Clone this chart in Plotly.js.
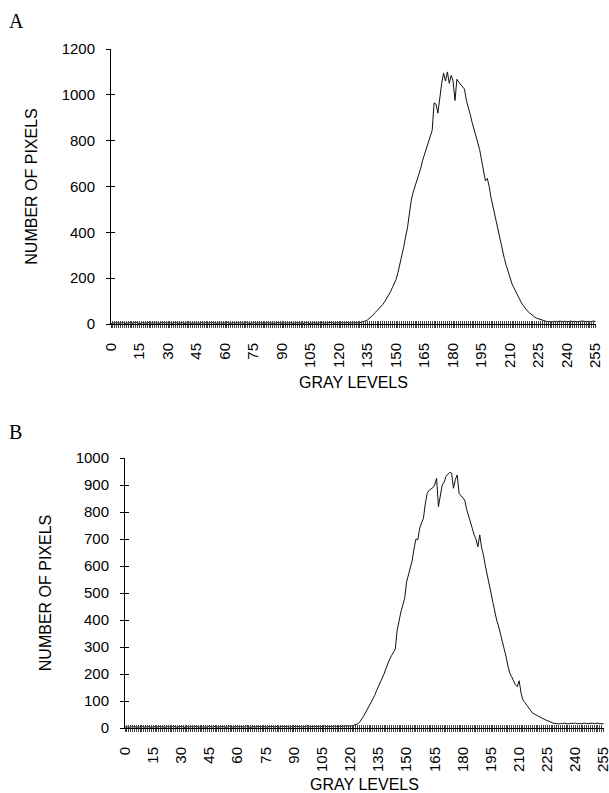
<!DOCTYPE html>
<html>
<head>
<meta charset="utf-8">
<script src="https://cdn.plot.ly/plotly-3.0.1.min.js"></script>
<style>html,body{margin:0;padding:0;background:#fff;}#chart{width:609px;height:793px;}</style>
</head>
<body>
<div id="chart"></div>
<script>
// Panel A: number of pixels per gray level (0..255)
const countsA = [
  2,4,3,6,5,3,7,4,2,5,
  6,3,4,8,5,2,4,6,3,5,
  7,4,3,5,6,2,4,7,5,3,
  4,6,2,5,8,4,3,6,5,2,
  5,7,3,4,6,5,2,4,7,3,
  6,4,5,3,7,2,5,6,4,3,
  5,8,4,2,6,5,3,7,4,5,
  3,6,4,5,2,7,5,3,6,4,
  5,3,7,4,6,2,5,4,8,3,
  4,6,5,3,7,4,2,6,5,4,
  6,3,5,7,4,2,5,6,3,4,
  5,7,3,4,6,5,8,4,3,6,
  4,5,6,3,7,5,4,6,5,7,
  5,6,8,10,14,18,24,32,40,50,
  58,66,75,85,97,110,122,140,158,178,
  195,225,260,295,335,380,420,480,540,575,
  600,620,650,680,715,740,765,790,815,845,
  965,960,920,990,1050,1095,1060,1100,1050,1085,
  1060,975,1068,1055,1045,1030,1025,975,950,915,
  880,850,820,790,760,715,670,625,635,600,
  550,510,470,430,395,355,320,285,255,225,
  195,175,158,140,122,108,92,80,68,58,
  50,42,36,30,25,22,20,16,12,10,
  9,11,8,12,10,9,13,11,10,12,
  9,11,13,10,12,9,11,10,13,12,
  10,12,9,11,13,10
];
// Panel B
const countsB = [
  3,5,2,4,6,3,5,2,4,7,
  4,3,6,5,2,4,5,3,6,4,
  5,2,4,6,3,5,7,4,3,5,
  6,4,2,5,3,6,4,5,7,3,
  4,6,5,2,4,7,3,5,6,4,
  3,5,6,4,2,5,7,4,3,6,
  5,4,6,3,5,8,4,2,6,5,
  3,7,4,5,6,3,5,4,7,5,
  4,6,3,5,7,4,6,5,3,6,
  5,7,4,6,5,3,6,8,5,4,
  6,5,7,4,6,5,8,6,4,7,
  5,6,8,5,7,6,5,8,7,6,
  7,8,10,12,15,22,30,42,55,68,
  80,92,104,120,138,153,168,185,200,220,
  240,255,268,280,292,362,400,430,455,480,
  540,570,590,620,665,700,697,740,760,777,
  830,869,880,885,890,900,925,820,870,900,
  910,931,940,947,944,888,920,937,869,860,
  850,844,810,789,760,740,715,700,671,715,
  668,640,600,570,530,500,465,430,400,378,
  350,326,295,265,230,203,190,175,160,153,
  175,130,104,95,85,72,62,56,52,48,
  44,40,36,33,30,28,24,20,18,17,
  16,15,17,16,18,16,15,17,16,17,
  18,16,17,15,17,18,16,17,16,18,
  16,17,18,16,17,16
];
const grayLevels = countsA.map((_, i) => i);
const xTickVals = [0,15,30,45,60,75,90,105,120,135,150,165,180,195,210,225,240,255];
const xTickText = ["0","15","30","45","60","75","90","105","120","135","150","165","180","195","210","225","240","255"];
const yTickValsA = [0,200,400,600,800,1000,1200];
const yTickValsB = [0,100,200,300,400,500,600,700,800,900,1000];
const panelLabels = ["A","B"];
const xTitle = "GRAY LEVELS";
const yTitle = "NUMBER OF PIXELS";

const W = 609, H = 793;
const FONT = "Liberation Sans, Arial, sans-serif";
const lineStyle = {color:"#111", width:1};

const traces = [
  {x: grayLevels, y: countsA, xaxis:"x", yaxis:"y", mode:"lines", line: lineStyle, showlegend:false, hoverinfo:"skip"},
  {x: grayLevels, y: countsB, xaxis:"x2", yaxis:"y2", mode:"lines", line: lineStyle, showlegend:false, hoverinfo:"skip"},
  {x: [], y: [], xaxis:"x3", yaxis:"y3", showlegend:false},
  {x: [], y: [], xaxis:"x4", yaxis:"y4", showlegend:false}
];

function mainX(domain, anchor) {
  return {
    domain: domain, anchor: anchor, range: [0, 255.2],
    showline: true, linecolor: "#000", linewidth: 1,
    showgrid: false, zeroline: false,
    tickmode: "array", tickvals: xTickVals, ticktext: xTickText,
    ticks: "outside", ticklen: 3, tickcolor: "#333", tickwidth: 1,
    minor: {tickmode: "linear", tick0: 0, dtick: 1, ticks: "outside", ticklen: 3, tickcolor: "#444", tickwidth: 1},
    tickangle: -90, ticklabelstandoff: 9, ticklabeloverflow: "allow",
    tickfont: {family: FONT, size: 15, color: "#000"},
    title: {text: xTitle, font: {family: FONT, size: 16, color: "#000"}, standoff: 9}
  };
}
function overX(over, anchor) {
  return {
    overlaying: over, anchor: anchor, range: [0, 255.2],
    showline: false, showgrid: false, zeroline: false, showticklabels: false,
    tickmode: "linear", tick0: 0, dtick: 1,
    ticks: "inside", ticklen: 3, tickcolor: "#444", tickwidth: 1
  };
}
function mainY(domain, anchor, range, vals) {
  return {
    domain: domain, anchor: anchor, range: range,
    showline: true, linecolor: "#000", linewidth: 1,
    showgrid: false, zeroline: false,
    tickmode: "array", tickvals: vals,
    ticks: "outside", ticklen: 4, tickcolor: "#000", tickwidth: 1,
    ticklabelstandoff: 8,
    tickfont: {family: FONT, size: 15, color: "#000"},
    title: {text: yTitle, font: {family: FONT, size: 16, color: "#000"}, standoff: 20}
  };
}
function overY(over, anchor, range, vals) {
  return {
    overlaying: over, anchor: anchor, range: range,
    showline: false, showgrid: false, zeroline: false, showticklabels: false,
    tickmode: "array", tickvals: vals,
    ticks: "inside", ticklen: 4, tickcolor: "#000", tickwidth: 1
  };
}

const xdomA = [111/W, 596/W], ydomA = [1 - 324/H, 1 - 49/H];
const xdomB = [125/W, 604/W], ydomB = [1 - 728/H, 1 - 458/H];

const layout = {
  width: W, height: H,
  margin: {l: 0, r: 0, t: 0, b: 0},
  paper_bgcolor: "#fff", plot_bgcolor: "rgba(0,0,0,0)",
  showlegend: false,
  xaxis: mainX(xdomA, "y"),
  yaxis: mainY(ydomA, "x", [0, 1200], yTickValsA),
  xaxis2: mainX(xdomB, "y2"),
  yaxis2: mainY(ydomB, "x2", [0, 1000], yTickValsB),
  xaxis3: overX("x", "y3"),
  yaxis3: overY("y", "x3", [0, 1200], yTickValsA),
  xaxis4: overX("x2", "y4"),
  yaxis4: overY("y2", "x4", [0, 1000], yTickValsB),
  annotations: [
    {text: panelLabels[0], xref: "paper", yref: "paper", x: 7/W, y: 1 - 8/H, xanchor: "left", yanchor: "top", showarrow: false,
     font: {family: "Liberation Serif, Times New Roman, serif", size: 20, color: "#000"}},
    {text: panelLabels[1], xref: "paper", yref: "paper", x: 7/W, y: 1 - 419/H, xanchor: "left", yanchor: "top", showarrow: false,
     font: {family: "Liberation Serif, Times New Roman, serif", size: 20, color: "#000"}}
  ]
};

Plotly.newPlot("chart", traces, layout, {staticPlot: true, displayModeBar: false});
</script>
</body>
</html>
